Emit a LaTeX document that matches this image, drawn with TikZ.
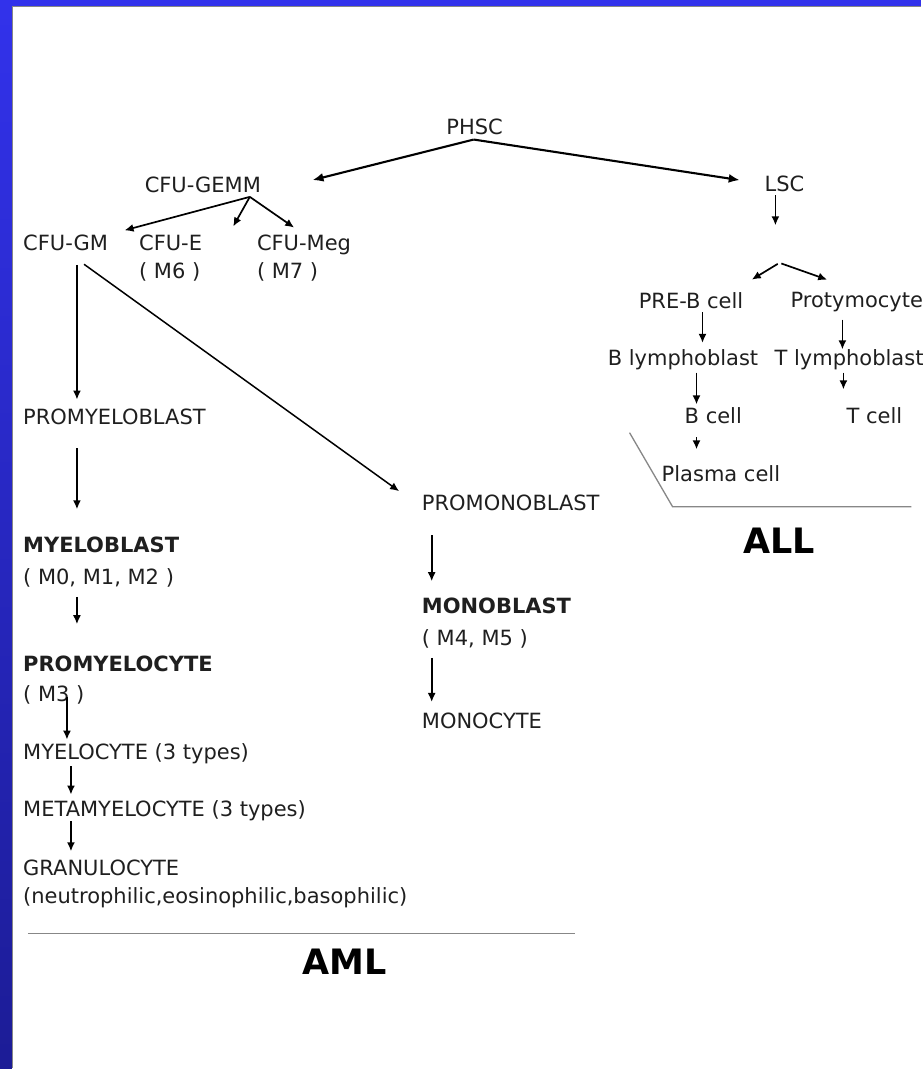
\documentclass[tikz,border=0pt]{standalone}
\usepackage{fontspec}
\setmainfont{DejaVu Sans}
\usepackage{tikz}
\usetikzlibrary{arrows.meta, positioning}
\usepackage{xcolor}
\definecolor{slideblue}{RGB}{50, 50, 235}
\definecolor{slidedark}{RGB}{28, 28, 150}
\definecolor{rulegray}{RGB}{135, 135, 135}

\begin{document}
\begin{tikzpicture}[x=1pt, y=-1pt,
  every node/.style={font=\fontsize{21}{28}\selectfont, inner sep=0pt, text=black!88},
  cell/.style={anchor=west, align=left},
  leuk/.style={font=\fontsize{35}{40}\selectfont\bfseries, text=black},
  arr/.style={-{Latex[length=9pt, width=8pt]}, line width=1.7pt},
  bigarr/.style={-{Latex[length=11pt, width=9pt]}, line width=2.1pt},
  rule/.style={rulegray, line width=1.3pt}]

% slide frame
\fill[white] (0,0) rectangle (922,1069);
\shade[top color=slideblue, bottom color=slidedark] (0,0) rectangle (12,1069);
\fill[slideblue] (0,0) rectangle (922,6);
\draw[rulegray, line width=1.5pt] (12.75,6) -- (12.75,1069);
\draw[rulegray, line width=1.5pt] (12,6.75) -- (922,6.75);

% stem cells
\node (phsc) at (475,127) {PHSC};
\node (gemm) at (203,185) {CFU-GEMM};
\node (lsc) at (785,184) {LSC};

% progenitors
\node[cell] (gm) at (23,243) {CFU-GM};
\node[cell] (cfue) at (139,258) {CFU-E\\( M6 )};
\node[cell] (meg) at (257,258) {CFU-Meg\\( M7 )};

% granulocytic line (AML)
\node[cell] (promyeloblast) at (23,417) {PROMYELOBLAST};
\node[cell] (myeloblast) at (23,562) {\textbf{MYELOBLAST}\\[4pt]( M0, M1, M2 )};
\node[cell] (promyelocyte) at (23,681) {\textbf{PROMYELOCYTE}\\[2pt]( M3 )};
\node[cell] (myelocyte) at (23,754) {MYELOCYTE (3 types)};
\node[cell] (metamyelocyte) at (23,811) {METAMYELOCYTE (3 types)};
\node[cell] (granulocyte) at (23,884.5) {GRANULOCYTE\\(neutrophilic,eosinophilic,basophilic)};

% monocytic line
\node[cell] (promonoblast) at (422,503) {PROMONOBLAST};
\node[cell] (monoblast) at (422,623.4) {\textbf{MONOBLAST}\\[4pt]( M4, M5 )};
\node[cell] (monocyte) at (422,721) {MONOCYTE};

% lymphoid line (ALL)
\node[cell] (preb) at (639,300.5) {PRE-B cell};
\node[cell] (protymocyte) at (791,302.5) {Protymocyte};
\node[cell] (blympho) at (608,360) {B lymphoblast};
\node[cell] (tlympho) at (775,360) {T lymphoblast};
\node[cell] (bcell) at (685,416) {B cell};
\node[cell] (tcell) at (847,416) {T cell};
\node[cell] (plasma) at (662,474) {Plasma cell};

% leukaemia labels
\node[leuk] (aml) at (345,962) {AML};
\node[leuk] (all) at (780,541) {ALL};
\draw[rule] (28,934) -- (575,934);
\draw[rule] (630,433) -- (673,507) -- (912,507);

% fork points
\coordinate (phscfork) at ([xshift=-1pt, yshift=-4.5pt]phsc.south);
\coordinate (gemmfork) at (250,197);
\coordinate (lsctip) at ([xshift=11pt, yshift=-33.35pt]lsc.south west);
\coordinate (lsplit) at (780,263);

% arrows from PHSC
\draw[bigarr, shorten >=53pt] (phscfork) -- (gemm.south east);
\draw[bigarr, shorten >=25pt] (phscfork) -- (lsc.west);

% arrows from CFU-GEMM
\draw[arr, shorten >=17pt] (gemmfork) -- (gm.north east);
\draw[arr] (gemmfork) -- ([shift={(31pt,8pt)}]cfue.north east);
\draw[arr, shorten >=12pt] (gemmfork) -- (meg.north);

% AML chain
\draw[arr, shorten <=14pt, shorten >=9pt] ([xshift=54pt]gm.south west) -- ([xshift=54pt]promyeloblast.north west);
\draw[arr, shorten <=23.3pt, shorten >=27pt] ([xshift=54pt]promyeloblast.south west) -- ([xshift=54pt]myeloblast.north west);
\draw[arr, shorten <=10pt, shorten >=32pt] ([xshift=54pt]myeloblast.south west) -- ([xshift=54pt]promyelocyte.north west);
\draw[arr, shorten <=-8pt, shorten >=3.5pt] ([xshift=44pt]promyelocyte.south west) -- ([xshift=44pt]myelocyte.north west);
\draw[arr, shorten <=2.5pt, shorten >=5.5pt] ([xshift=48pt]myelocyte.south west) -- ([xshift=48pt]metamyelocyte.north west);
\draw[arr, shorten <=0.5pt, shorten >=8.4pt] ([xshift=48pt]metamyelocyte.south west) -- ([xshift=48pt]granulocyte.north west);

% monocytic chain
\draw[arr, line width=1.5pt, shorten <=22.8pt, shorten >=5.7pt] (gm.south) -- ([xshift=-18pt]promonoblast.north west);
\draw[arr, shorten <=24.3pt, shorten >=16.4pt] ([xshift=10pt]promonoblast.south west) -- ([xshift=10pt]monoblast.north west);
\draw[arr, shorten <=9.5pt, shorten >=10.4pt] ([xshift=10pt]monoblast.south west) -- ([xshift=10pt]monocyte.north west);

% ALL chain
\draw[arr, shorten <=3.4pt] ([xshift=11pt]lsc.south west) -- (lsctip);
\draw[arr, shorten <=2pt, shorten >=23.8pt] (lsplit) -- ([xshift=-12pt]preb.north east);
\draw[arr, shorten <=2pt, shorten >=37.8pt] (lsplit) -- ([xshift=6pt]protymocyte.north);
\draw[arr, shorten <=3.5pt, shorten >=6.5pt] ([xshift=64pt]preb.south west) -- ([xshift=95pt]blympho.north west);
\draw[arr, shorten <=7.4pt] ([xshift=52pt]protymocyte.south west) -- ([xshift=68pt]tlympho.north west);
\draw[arr, shorten <=2.5pt, shorten >=3pt] ([xshift=89pt]blympho.south west) -- ([xshift=12pt]bcell.north west);
\draw[arr, shorten <=2.5pt, shorten >=18pt] ([xshift=69pt]tlympho.south west) -- ([xshift=-3pt]tcell.north west);
\draw[arr, shorten <=13pt, shorten >=16pt] ([xshift=12pt]bcell.south west) -- ([xshift=35pt]plasma.north west);

\end{tikzpicture}
\end{document}
